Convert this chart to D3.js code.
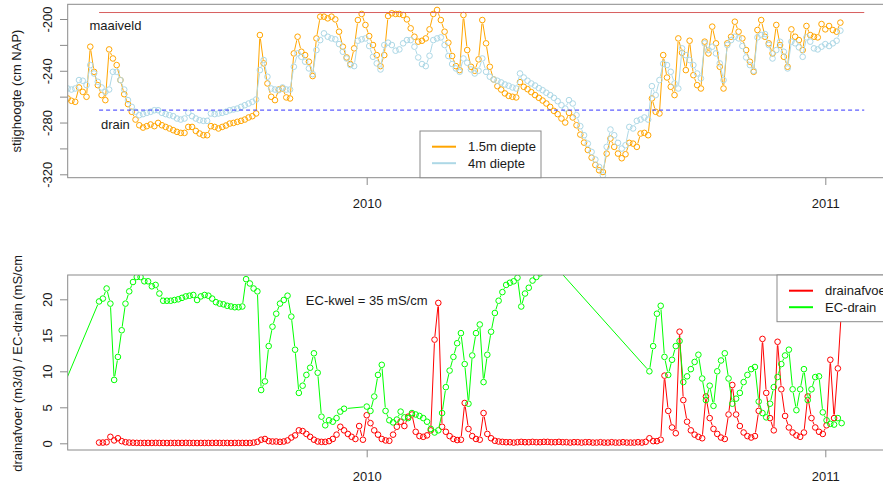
<!DOCTYPE html>
<html>
<head>
<meta charset="utf-8">
<script src="https://cdn.jsdelivr.net/npm/d3@7"></script>
<style>
  html, body { margin: 0; padding: 0; background: #fff; }
  svg { display: block; font-family: "Liberation Sans", Arial, Helvetica, sans-serif; }
</style>
</head>
<body>
<svg id="chart" width="883" height="486"></svg>
<script>
// ---- data -------------------------------------------------------------
// groundwater heads (cm NAP), one reading every 3 days from levelStart
const levelStart = "2009-05-08";
const drainStart = "2009-04-18";
const stepDays = 3;

const head15 = [
  -261.4,-263.2,-264.0,-252.9,-256.3,-260.1,-221.4,-240.8,-251.1,-258.8,
  -262.7,-223.5,-230.5,-235.6,-247.2,-258.1,-265.8,-271.7,-277.7,-282.1,
  -283.9,-282.8,-281.5,-282.8,-280.3,-282.1,-283.4,-284.6,-285.9,-287.2,
  -288.0,-288.0,-283.4,-283.4,-286.5,-288.5,-289.8,-289.8,-282.8,-283.4,
  -284.6,-283.4,-282.3,-280.8,-280.3,-279.5,-278.7,-277.7,-276.1,-275.1,
  -273.0,-212.4,-234.3,-249.8,-260.1,-262.7,-254.5,-253.7,-260.6,-261.4,
  -226.6,-213.7,-225.3,-227.9,-233.0,-244.1,-215.0,-198.2,-198.2,-199.5,
  -198.2,-200.3,-209.8,-221.4,-229.7,-234.8,-222.7,-200.8,-196.1,-204.6,
  -213.2,-220.1,-227.9,-236.4,-227.9,-197.7,-195.6,-196.1,-196.1,-196.9,
  -200.3,-207.2,-213.7,-217.5,-216.8,-215.0,-208.0,-196.1,-193.0,-200.8,
  -209.8,-218.3,-228.6,-236.4,-239.5,-196.9,-224.0,-236.9,-240.0,-231.2,
  -200.8,-218.8,-236.9,-246.7,-251.9,-254.5,-257.5,-259.4,-260.1,-260.6,
  -248.8,-252.4,-254.2,-256.5,-258.8,-260.9,-263.0,-265.3,-267.9,-271.0,
  -273.5,-276.9,-280.0,-272.5,-276.1,-282.1,-289.3,-295.5,-301.2,-307.1,
  -312.8,-316.9,-318.2,-304.0,-292.4,-298.8,-304.0,-307.6,-304.5,-295.7,
  -296.3,-298.8,-288.5,-288.0,-289.8,-261.4,-271.7,-273.0,-227.9,-245.2,
  -252.4,-258.8,-215.0,-226.1,-239.5,-216.8,-243.4,-251.1,-253.7,-217.5,
  -226.6,-205.9,-218.8,-236.9,-253.7,-218.8,-213.7,-202.1,-209.8,-215.0,
  -224.0,-233.0,-240.8,-208.5,-200.8,-213.7,-218.8,-226.6,-204.6,-220.1,
  -229.2,-236.9,-208.0,-213.7,-216.3,-224.0,-205.4,-212.4,-213.7,-214.2,
  -203.9,-208.0,-205.4,-208.5,-209.8,-202.8
];

const head4 = [
  -253.7,-254.5,-253.7,-247.2,-247.7,-251.1,-235.6,-242.1,-248.5,-252.9,
  -256.3,-254.5,-240.8,-240.8,-247.2,-254.5,-262.7,-267.9,-271.7,-274.3,
  -273.5,-272.5,-271.7,-270.5,-270.5,-272.5,-273.5,-274.3,-275.1,-276.9,
  -277.7,-276.9,-272.5,-275.1,-276.9,-278.2,-278.7,-278.7,-273.0,-273.5,
  -273.0,-272.5,-271.7,-270.5,-269.9,-269.2,-267.9,-266.6,-265.3,-264.0,
  -262.2,-239.5,-231.7,-244.6,-253.7,-254.5,-255.0,-252.9,-254.5,-254.5,
  -236.9,-226.6,-229.2,-233.0,-238.2,-242.6,-224.0,-216.3,-211.1,-213.7,
  -215.0,-215.7,-219.4,-225.3,-230.5,-235.6,-236.4,-216.8,-215.7,-215.0,
  -220.9,-229.2,-234.3,-239.0,-220.1,-218.3,-220.1,-224.5,-223.5,-218.8,
  -216.3,-216.3,-221.4,-229.7,-234.8,-236.4,-228.4,-216.3,-215.0,-214.2,
  -220.1,-228.6,-234.8,-238.2,-240.8,-230.5,-233.8,-239.0,-242.1,-240.0,
  -230.5,-240.8,-244.6,-246.7,-247.7,-249.0,-250.6,-251.6,-252.9,-253.7,
  -242.1,-245.2,-247.7,-249.8,-251.4,-253.4,-255.0,-257.0,-258.8,-260.9,
  -263.5,-266.6,-269.2,-262.7,-265.3,-274.3,-282.8,-289.8,-296.3,-302.7,
  -308.6,-314.3,-320.8,-298.8,-285.4,-289.8,-295.7,-300.1,-297.5,-283.4,
  -284.6,-278.7,-277.7,-276.1,-277.7,-251.9,-258.8,-247.2,-234.6,-235.6,
  -240.8,-249.8,-253.7,-222.7,-227.9,-231.7,-235.6,-242.1,-245.9,-218.8,
  -224.0,-221.4,-226.6,-234.3,-247.2,-220.1,-216.3,-213.7,-215.0,-220.9,
  -229.7,-235.6,-240.0,-214.2,-212.4,-211.6,-220.1,-230.5,-224.0,-217.6,
  -225.3,-238.2,-217.5,-218.8,-221.9,-229.2,-214.2,-217.5,-222.7,-223.5,
  -221.4,-219.4,-220.9,-218.8,-216.8,-209.0
];

// drain discharge (m3/d) and drain EC (mS/cm), every 3 days from drainStart; null = no reading
const drainFlow = [
  null,null,null,null,null,null,null,null,null,null,null,null,null,null,null,
  0.1,0.1,0.15,0.9,0.4,0.7,0.3,0.15,0.1,0.08,0.06,
  0.05,0.05,0.05,0.05,0.06,0.05,0.05,0.04,0.05,0.05,0.05,0.05,0.06,0.05,0.05,
  0.04,0.05,0.05,0.05,0.05,0.06,0.05,0.05,0.05,0.04,0.05,0.05,0.05,0.05,0.05,
  0.1,0.2,0.5,0.6,0.3,0.25,0.25,0.2,0.25,0.4,
  0.8,1.1,1.8,1.7,1.3,0.9,0.5,0.25,0.2,0.2,0.3,0.6,1.2,
  2.3,1.8,1.3,0.9,0.6,2.4,0.5,3.9,2.8,1.8,1.2,0.6,0.4,0.35,
  1.2,2.3,3.0,2.4,3.7,4.0,1.6,1.0,0.9,1.1,1.8,14.4,19.5,
  2.3,1.6,1.0,0.6,0.45,0.5,5.6,2.0,1.0,0.6,0.5,4.2,1.3,0.7,0.35,0.25,
  0.2,0.15,0.15,0.1,0.15,0.2,0.15,0.15,0.2,0.15,0.15,0.2,0.2,0.15,0.15,0.2,0.15,0.15,0.1,0.15,
  0.15,0.1,0.15,0.15,0.1,0.1,0.15,0.1,0.1,0.15,0.1,0.1,0.15,0.1,0.1,0.1,0.15,0.1,0.2,
  0.7,0.3,0.3,0.5,
  9.4,4.5,2.2,1.4,15.5,6.0,3.0,1.8,1.2,0.9,0.7,6.5,3.5,2.0,1.3,0.8,0.6,4.0,8.1,4.0,
  2.4,1.5,1.0,0.8,1.0,4.5,14.5,7.0,3.5,1.8,14.1,7.5,3.8,2.2,1.5,1.1,0.9,1.5,6.5,3.5,
  2.2,1.6,1.3,2.5,11.6,3.5,10.4,19.0
];

const ecDrain = [
  1.0,
  null,null,null,null,null,null,null,null,null,null,null,null,null,null,
  19.7,20.1,21.5,19.4,8.8,12.0,15.7,19.4,21.1,22.4,23.1,23.1,22.5,22.5,21.8,22.0,
  20.8,19.8,19.8,19.8,19.9,20.0,20.2,20.4,20.5,20.6,19.9,20.4,20.6,20.5,20.1,
  19.6,19.4,19.3,19.1,19.0,18.9,18.9,19.0,22.8,22.2,21.5,21.1,7.4,8.6,13.5,
  16.2,18.0,19.4,19.9,20.5,17.6,13.0,7.0,8.0,9.5,10.5,12.5,9.8,3.7,2.5,
  3.2,3.0,3.5,4.4,4.8,
  null,null,null,null,null,
  5.1,4.5,6.5,9.5,10.9,4.5,3.2,2.9,3.3,4.4,3.6,3.5,4.2,4.0,3.8,
  3.5,3.0,2.0,1.5,1.8,4.2,7.8,10.1,12.0,13.9,15.3,11.0,5.5,12.2,15.3,
  16.5,8.5,12.3,15.5,18.1,19.8,21.0,22.0,22.3,22.5,23.0,19.0,20.8,21.6,22.6,
  23.1,23.6,24.0,24.2,24.4,24.6,
  null,null,null,null,null,null,null,null,null,null,null,null,
  null,null,null,null,null,null,null,null,null,null,null,null,
  10.0,13.5,18.0,19.1,12.0,9.5,11.6,13.5,14.2,8.5,9.3,10.3,11.3,12.3,9.0,
  6.0,8.0,5.2,10.0,11.5,12.5,9.0,5.5,6.2,7.0,8.5,9.5,10.3,10.6,5.8,
  4.2,3.6,5.5,7.8,9.2,11.0,12.2,13.0,7.5,4.6,7.5,10.3,6.0,7.5,9.2,
  9.3,4.3,3.2,2.7,2.6,3.5,2.8
];

// reference levels and annotation
const surfaceLevel = -195;       // maaiveld
const drainLevel = -270.4;       // drain depth
const refLineSpan = ["2009-06-02", "2011-02-01"];
const ecSeepage = "EC-kwel = 35 mS/cm";

// axis ticks
const yearTicks = ["2010-01-01", "2011-01-01"];
const headTicks = [-320, -300, -280, -260, -240, -220, -200];
const headLabelled = [-320, -280, -240, -200];
const flowTicks = [0, 5, 10, 15, 20];

// ---- layout -----------------------------------------------------------
const svg = d3.select("#chart");
const parse = d3.utcParse("%Y-%m-%d");
const left = 67.7, right = 905;
const topPanel = { top: 4.3, bottom: 177.7 };
const botPanel = { top: 275, bottom: 450 };
const boxColor = "#8a8a8a";
const textColor = "#1a1a1a";
const fontSize = 13;
const symbolR = 2.8;

const x = d3.scaleUtc()
  .domain([parse(yearTicks[0]), parse(yearTicks[1])])
  .range([366.7, 825.3]);
const yHead = d3.scaleLinear().domain([-320, -200]).range([174.3, 19]);
const yFlow = d3.scaleLinear().domain([0, 20]).range([443.3, 299.3]);

function seriesPoints(start, values) {
  const t0 = parse(start);
  return values.map((v, i) => ({ date: d3.utcDay.offset(t0, i * stepDays), value: v }))
               .filter(d => d.value !== null);
}

// lines between points with a gap around each symbol ("both" style)
function gappedPath(pts, gap) {
  let d = "";
  for (let k = 1; k < pts.length; k++) {
    const [x1, y1] = pts[k - 1], [x2, y2] = pts[k];
    const dx = x2 - x1, dy = y2 - y1, L = Math.hypot(dx, dy);
    if (L <= 2 * gap) continue;
    const ux = dx / L, uy = dy / L;
    d += `M${x1 + ux * gap},${y1 + uy * gap}L${x2 - ux * gap},${y2 - uy * gap}`;
  }
  return d;
}

function drawSeries(g, data, yScale, color) {
  const pts = data.map(d => [x(d.date), yScale(d.value)]);
  g.append("path")
    .attr("d", gappedPath(pts, 3.6))
    .attr("fill", "none")
    .attr("stroke", color)
    .attr("stroke-width", 1);
  g.append("g").selectAll("circle")
    .data(pts)
    .join("circle")
    .attr("cx", p => p[0])
    .attr("cy", p => p[1])
    .attr("r", symbolR)
    .attr("fill", "none")
    .attr("stroke", color)
    .attr("stroke-width", 1);
}

const defs = svg.append("defs");
function clip(id, y0, y1) {
  defs.append("clipPath").attr("id", id)
    .append("rect").attr("x", left).attr("y", y0)
    .attr("width", right - left).attr("height", y1 - y0);
}
clip("clipTop", topPanel.top, topPanel.bottom);
clip("clipBot", botPanel.top, botPanel.bottom);
defs.append("clipPath").attr("id", "clipYLab")
  .append("rect").attr("x", 0).attr("y", 256).attr("width", 40).attr("height", 230);

function styleAxis(sel) {
  sel.select(".domain").remove();
  sel.selectAll("line").attr("stroke", boxColor);
  sel.selectAll("text").attr("fill", textColor).style("font-size", fontSize + "px");
}

function yAxis(yScale, ticks, fmt) {
  return g => {
    g.attr("transform", `translate(${left},0)`)
      .call(d3.axisLeft(yScale).tickValues(ticks).tickSize(7.7).tickFormat(fmt))
      .call(styleAxis)
      .call(s => s.selectAll("text")
        .attr("transform", "rotate(-90)")
        .attr("x", 0).attr("y", -20.2).attr("dy", null)
        .attr("text-anchor", "middle")
        .attr("dominant-baseline", "central"));
  };
}

function xAxis(yPos) {
  return g => {
    g.attr("transform", `translate(0,${yPos})`)
      .call(d3.axisBottom(x).tickValues(yearTicks.map(parse)).tickSize(7.3)
        .tickFormat(d3.utcFormat("%Y")))
      .call(styleAxis)
      .call(s => s.selectAll("text")
        .attr("y", 26).attr("dy", null)
        .attr("dominant-baseline", "central"));
  };
}

function frame(p) {
  svg.append("rect")
    .attr("x", left).attr("y", p.top)
    .attr("width", right - left).attr("height", p.bottom - p.top)
    .attr("fill", "none").attr("stroke", boxColor).attr("stroke-width", 1);
}

function legend(x0, y0, w, items) {
  const g = svg.append("g");
  g.append("rect").attr("x", x0).attr("y", y0).attr("width", w).attr("height", 46.7)
    .attr("fill", "#fff").attr("stroke", boxColor).attr("stroke-width", 1);
  items.forEach((it, k) => {
    const yy = y0 + 15.7 + k * 16.5;
    g.append("line").attr("x1", x0 + 12).attr("x2", x0 + 36).attr("y1", yy).attr("y2", yy)
      .attr("stroke", it.color).attr("stroke-width", 2);
    g.append("text").attr("x", x0 + 48).attr("y", yy).attr("dominant-baseline", "central")
      .attr("fill", textColor).style("font-size", fontSize + "px").text(it.label);
  });
}

// ---- top panel: heads --------------------------------------------------
const headG = svg.append("g").attr("clip-path", "url(#clipTop)");
drawSeries(headG, seriesPoints(levelStart, head15), yHead, "#FFA500");
drawSeries(headG, seriesPoints(levelStart, head4), yHead, "#ADD8E6");

const spanX = refLineSpan.map(s => x(parse(s)));
headG.append("line").attr("x1", spanX[0]).attr("x2", spanX[1])
  .attr("y1", yHead(surfaceLevel)).attr("y2", yHead(surfaceLevel))
  .attr("stroke", "#d86060").attr("stroke-width", 1);
headG.append("line").attr("x1", spanX[0]).attr("x2", spanX[1])
  .attr("y1", yHead(drainLevel)).attr("y2", yHead(drainLevel))
  .attr("stroke", "#3535ff").attr("stroke-width", 1).attr("stroke-dasharray", "4,3");

const labelDate = parse("2009-06-15");
svg.append("text").attr("x", x(labelDate)).attr("y", yHead(-205.4))
  .attr("text-anchor", "middle").attr("dominant-baseline", "central")
  .attr("fill", textColor).style("font-size", fontSize + "px").text("maaiveld");
svg.append("text").attr("x", x(labelDate)).attr("y", yHead(-281.2))
  .attr("text-anchor", "middle").attr("dominant-baseline", "central")
  .attr("fill", textColor).style("font-size", fontSize + "px").text("drain");

frame(topPanel);
svg.append("g").call(yAxis(yHead, headTicks, d => headLabelled.includes(d) ? String(d) : ""));
svg.append("g").call(xAxis(topPanel.bottom));

svg.append("text")
  .attr("transform", `translate(16,${(topPanel.top + topPanel.bottom) / 2}) rotate(-90)`)
  .attr("text-anchor", "middle").attr("dominant-baseline", "central")
  .attr("fill", textColor).style("font-size", fontSize + "px")
  .text("stijghoogte (cm NAP)");

legend(420, 131, 121, [
  { label: "1.5m diepte", color: "#FFA500" },
  { label: "4m diepte", color: "#ADD8E6" }
]);

// ---- bottom panel: drain discharge and EC --------------------------------
const flowG = svg.append("g").attr("clip-path", "url(#clipBot)");
drawSeries(flowG, seriesPoints(drainStart, drainFlow), yFlow, "#FF0000");
drawSeries(flowG, seriesPoints(drainStart, ecDrain), yFlow, "#00FF00");

svg.append("text").attr("x", x(parse(yearTicks[0]))).attr("y", yFlow(19.8))
  .attr("text-anchor", "middle").attr("dominant-baseline", "central")
  .attr("fill", textColor).style("font-size", fontSize + "px").text(ecSeepage);

frame(botPanel);
svg.append("g").call(yAxis(yFlow, flowTicks, d => String(d)));
svg.append("g").call(xAxis(botPanel.bottom));

svg.append("g").attr("clip-path", "url(#clipYLab)")
  .append("text")
  .attr("transform", `translate(17,471.7) rotate(-90)`)
  .attr("text-anchor", "start").attr("dominant-baseline", "central")
  .attr("fill", textColor).style("font-size", fontSize + "px")
  .text("drainafvoer (m3/d) / EC-drain (mS/cm)");

legend(777, 275, 130, [
  { label: "drainafvoer", color: "#FF0000" },
  { label: "EC-drain", color: "#00FF00" }
]);
</script>
</body>
</html>
